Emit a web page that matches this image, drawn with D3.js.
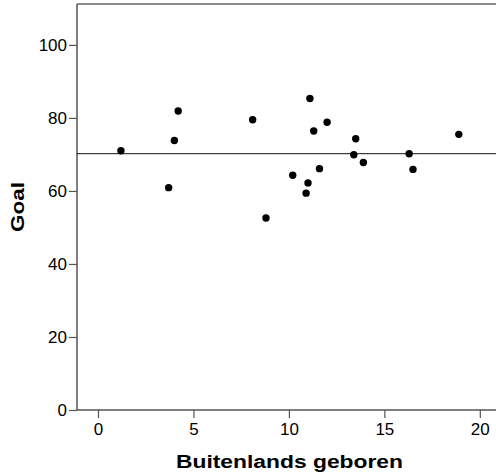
<!DOCTYPE html>
<html>
<head>
<meta charset="utf-8">
<script src="https://cdn.jsdelivr.net/npm/d3@7"></script>
<style>
  body{margin:0;background:#fff;}
  svg{display:block;}
  text{font-family:"Liberation Sans",Arial,sans-serif;fill:#000;}
</style>
</head>
<body>
<svg id="chart" width="496" height="475"></svg>
<script>
// data
var buitenlands = [1.2, 3.7, 4.0, 4.2, 8.1, 8.8, 10.2, 10.9, 11.0, 11.1, 11.3, 11.6, 12.0, 13.5, 13.4, 13.9, 16.3, 16.5, 18.9];
var goal        = [71.0, 60.9, 73.8, 81.9, 79.5, 52.6, 64.3, 59.4, 62.2, 85.3, 76.4, 66.1, 78.8, 74.3, 69.9, 67.8, 70.2, 65.9, 75.5];
var meanGoal = 70.2;
var xTicks = [0, 5, 10, 15, 20];
var yTicks = [0, 20, 40, 60, 80, 100];

var svg = d3.select('#chart');
// note: "top" is taken by window.top, so plot edges get their own names
var plotL = 77, plotR = 497, plotT = 4, plotB = 410;

var x = d3.scaleLinear().domain([-1.1, 20.9]).range([plotL, plotR]);
var y = d3.scaleLinear().domain([0, 111.2]).range([plotB, plotT]);

//frame (top + left + bottom, right side runs off the picture)
svg.append('line')
    .attr('x1', plotL).attr('x2', 496).attr('y1', plotT).attr('y2', plotT)
    .attr('stroke', '#666').attr('stroke-width', 1.5);

var yAxis = svg.append('g')
    .attr('transform', 'translate(' + plotL + ',0)')
    .call(d3.axisLeft(y).tickValues(yTicks).tickSize(8).tickPadding(2).tickSizeOuter(0));
var xAxis = svg.append('g')
    .attr('transform', 'translate(0,' + plotB + ')')
    .call(d3.axisBottom(x).tickValues(xTicks).tickSize(8).tickPadding(5).tickSizeOuter(0));

[xAxis, yAxis].forEach(function(ax){
    ax.select('.domain').attr('stroke', '#555').attr('stroke-width', 1.5);
    ax.selectAll('.tick line').attr('stroke', '#555').attr('stroke-width', 1.2);
    ax.selectAll('.tick text')
        .attr('font-size', 17).attr('font-family', '"Liberation Sans",Arial,sans-serif')
        .attr('fill', '#000');
});
yAxis.select('.domain').attr('d', 'M0,' + plotT + 'V' + plotB);
xAxis.select('.domain').attr('d', 'M' + plotL + ',0H496');

// mean line
svg.append('line')
    .attr('x1', plotL).attr('x2', 496)
    .attr('y1', y(meanGoal)).attr('y2', y(meanGoal))
    .attr('stroke', '#111').attr('stroke-width', 1);

// points
svg.selectAll('circle.pt')
    .data(d3.zip(buitenlands, goal))
    .enter().append('circle')
    .attr('class', 'pt')
    .attr('cx', function(d){ return x(d[0]); })
    .attr('cy', function(d){ return y(d[1]); })
    .attr('r', 3.7)
    .attr('fill', '#000');

// axis titles
svg.append('text')
    .attr('x', 289.5).attr('y', 468)
    .attr('text-anchor', 'middle')
    .attr('font-size', 18).attr('font-weight', 'bold')
    .attr('textLength', 227).attr('lengthAdjust', 'spacingAndGlyphs')
    .text('Buitenlands geboren');

svg.append('text')
    .attr('transform', 'translate(24,' + (plotT + plotB) / 2 + ') rotate(-90)')
    .attr('text-anchor', 'middle')
    .attr('font-size', 18).attr('font-weight', 'bold')
    .attr('textLength', 50).attr('lengthAdjust', 'spacingAndGlyphs')
    .text('Goal');
</script>
</body>
</html>
